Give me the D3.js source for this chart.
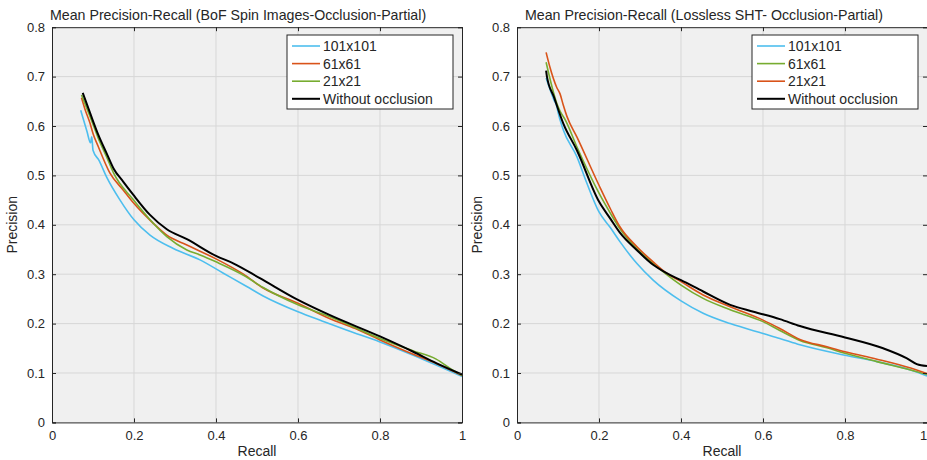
<!DOCTYPE html>
<html lang="en">
<head>
<meta charset="UTF-8" />
<title>Mean Precision-Recall</title>
<script src="https://cdn.jsdelivr.net/npm/d3@7"></script>
<style>
  body { margin: 0; background: #fff; }
  svg text { font-family: "Liberation Sans", Arial, sans-serif; fill: #262626; }
</style>
</head>
<body>
<script>
// tick labels
var xTicks = [0, 0.2, 0.4, 0.6, 0.8, 1];
var yTicks = [0, 0.1, 0.2, 0.3, 0.4, 0.5, 0.6, 0.7, 0.8];

// left panel: BoF Spin Images, [recall, precision]
var bof101 = [[0.07,0.632],[0.085,0.59],[0.094,0.566],[0.097,0.578],[0.1,0.551],[0.115,0.53],[0.133,0.497],[0.166,0.45],[0.2,0.41],[0.239,0.379],[0.296,0.352],[0.361,0.329],[0.418,0.302],[0.475,0.275],[0.515,0.256],[0.6,0.224],[0.66,0.205],[0.718,0.187],[0.8,0.163],[0.881,0.136],[0.94,0.115],[1.0,0.093]];
var bof61 = [[0.072,0.657],[0.08,0.635],[0.093,0.605],[0.1,0.585],[0.113,0.558],[0.141,0.505],[0.174,0.47],[0.198,0.445],[0.247,0.403],[0.28,0.379],[0.329,0.359],[0.4,0.331],[0.467,0.3],[0.515,0.272],[0.6,0.241],[0.678,0.21],[0.74,0.19],[0.8,0.167],[0.881,0.138],[0.94,0.118],[1.0,0.095]];
var bof21 = [[0.072,0.663],[0.093,0.619],[0.113,0.575],[0.133,0.538],[0.15,0.505],[0.198,0.451],[0.247,0.403],[0.28,0.376],[0.329,0.349],[0.361,0.339],[0.4,0.325],[0.467,0.298],[0.515,0.273],[0.6,0.238],[0.678,0.214],[0.8,0.17],[0.88,0.145],[0.937,0.128],[0.97,0.11],[1.0,0.095]];
var bofNone = [[0.075,0.667],[0.093,0.626],[0.113,0.582],[0.133,0.545],[0.15,0.514],[0.174,0.487],[0.198,0.461],[0.239,0.42],[0.28,0.391],[0.329,0.371],[0.4,0.337],[0.442,0.322],[0.507,0.292],[0.6,0.248],[0.678,0.217],[0.8,0.174],[0.881,0.143],[0.937,0.12],[1.0,0.097]];

// right panel: Lossless SHT
var sht101 = [[0.071,0.697],[0.09,0.653],[0.097,0.64],[0.1,0.628],[0.113,0.592],[0.146,0.538],[0.17,0.485],[0.2,0.426],[0.228,0.394],[0.251,0.366],[0.292,0.322],[0.332,0.288],[0.4,0.246],[0.454,0.221],[0.52,0.2],[0.6,0.18],[0.641,0.17],[0.69,0.157],[0.8,0.136],[0.878,0.123],[0.96,0.106],[1.0,0.094]];
var sht61 = [[0.071,0.729],[0.097,0.646],[0.105,0.63],[0.118,0.612],[0.146,0.558],[0.2,0.464],[0.228,0.423],[0.251,0.392],[0.292,0.352],[0.332,0.322],[0.4,0.278],[0.454,0.251],[0.52,0.228],[0.6,0.204],[0.641,0.186],[0.69,0.166],[0.756,0.151],[0.8,0.14],[0.878,0.123],[0.96,0.106],[1.0,0.097]];
var sht21 = [[0.071,0.749],[0.08,0.72],[0.097,0.678],[0.105,0.665],[0.113,0.642],[0.122,0.619],[0.146,0.578],[0.2,0.48],[0.228,0.432],[0.251,0.396],[0.292,0.356],[0.332,0.325],[0.365,0.302],[0.4,0.285],[0.454,0.258],[0.52,0.234],[0.6,0.207],[0.641,0.19],[0.69,0.168],[0.756,0.153],[0.8,0.143],[0.878,0.128],[0.96,0.11],[1.0,0.099]];
var shtNone = [[0.071,0.712],[0.073,0.7],[0.09,0.659],[0.113,0.605],[0.146,0.551],[0.2,0.447],[0.228,0.412],[0.251,0.384],[0.292,0.349],[0.332,0.319],[0.365,0.302],[0.4,0.288],[0.454,0.265],[0.52,0.238],[0.577,0.224],[0.641,0.209],[0.69,0.195],[0.8,0.172],[0.893,0.15],[0.95,0.13],[0.975,0.118],[1.0,0.114]];

var blue = "#4dbeee", orange = "#d95319", green = "#77ac30";

var svg = d3.select("body").append("svg")
    .attr("width", 927)
    .attr("height", 460);

function drawPanel(p) {
  var x = d3.scaleLinear().domain([0, 1]).range([p.left, p.left + 410]);
  var y = d3.scaleLinear().domain([0, 0.8]).range([422.4, 27.2]);
  var g = svg.append("g");

  // axes background
  g.append("rect")
    .attr("x", x(0)).attr("y", y(0.8))
    .attr("width", x(1) - x(0)).attr("height", y(0) - y(0.8))
    .attr("fill", "#f0f0f0");

  // grid
  g.selectAll(".vgrid").data(xTicks.slice(1, -1)).enter().append("line")
    .attr("x1", function(d) { return x(d); }).attr("x2", function(d) { return x(d); })
    .attr("y1", y(0)).attr("y2", y(0.8))
    .attr("stroke", "#d7d7d7").attr("stroke-width", 1);
  g.selectAll(".hgrid").data(yTicks.slice(1, -1)).enter().append("line")
    .attr("x1", x(0)).attr("x2", x(1))
    .attr("y1", function(d) { return y(d); }).attr("y2", function(d) { return y(d); })
    .attr("stroke", "#d7d7d7").attr("stroke-width", 1);

  // curves
  var line = d3.line()
    .x(function(d) { return x(d[0]); })
    .y(function(d) { return y(d[1]); })
    .curve(d3.curveMonotoneX);
  p.series.forEach(function(s) {
    g.append("path")
      .datum(s.data)
      .attr("d", line)
      .attr("fill", "none")
      .attr("stroke", s.color)
      .attr("stroke-width", s.color == "#000" ? 2 : 1.6)
      .attr("stroke-linejoin", "round");
  });

  // axes, ticks inside on all four sides
  var bottom = d3.axisBottom(x).tickValues(xTicks).tickSize(-4).tickPadding(8)
    .tickFormat(d3.format("~g"));
  var top = d3.axisTop(x).tickValues(xTicks).tickSize(-4).tickFormat("");
  var left = d3.axisLeft(y).tickValues(yTicks).tickSize(-4).tickPadding(7)
    .tickFormat(d3.format("~g"));
  var right = d3.axisRight(y).tickValues(yTicks).tickSize(-4).tickFormat("");

  [[bottom, "translate(0," + y(0) + ")"], [top, "translate(0," + y(0.8) + ")"],
   [left, "translate(" + x(0) + ",0)"], [right, "translate(" + x(1) + ",0)"]].forEach(function(a) {
    var ax = g.append("g").attr("transform", a[1]).call(a[0]);
    ax.select(".domain").attr("stroke", "#262626");
    ax.selectAll(".tick line").attr("stroke", "#262626");
    ax.selectAll("text").attr("font-size", 13).attr("fill", "#262626")
      .attr("font-family", "Liberation Sans, Arial, sans-serif");
    if (a[0] === bottom && p.lastTickShift) {
      ax.selectAll(".tick text").filter(function(d) { return d === 1; })
        .attr("dx", p.lastTickShift);
    }
  });

  // title and labels
  g.append("text")
    .attr("x", p.titleX).attr("y", 20)
    .attr("font-size", 14.2)
    .text(p.title);
  g.append("text")
    .attr("x", (x(0) + x(1)) / 2).attr("y", 456)
    .attr("text-anchor", "middle")
    .attr("font-size", 14)
    .text("Recall");
  g.append("text")
    .attr("transform", "translate(" + (p.left - 35) + "," + y(0.4) + ") rotate(-90)")
    .attr("text-anchor", "middle")
    .attr("font-size", 14)
    .text("Precision");

  // legend
  var lx = p.legendX, ly = 35;
  g.append("rect")
    .attr("x", lx).attr("y", ly).attr("width", 166).attr("height", 74)
    .attr("fill", "#fff").attr("stroke", "#262626").attr("stroke-width", 1);
  p.series.forEach(function(s, i) {
    var cy = ly + 11 + i * 17.6;
    g.append("line")
      .attr("x1", lx + 5).attr("x2", lx + 33)
      .attr("y1", cy).attr("y2", cy)
      .attr("stroke", s.color).attr("stroke-width", s.color == "#000" ? 2 : 1.6);
    g.append("text")
      .attr("x", lx + 36).attr("y", cy + 5)
      .attr("font-size", 14)
      .text(s.name);
  });
}

drawPanel({
  left: 52, titleX: 50, legendX: 287,
  title: "Mean Precision-Recall (BoF Spin Images-Occlusion-Partial)",
  series: [
    { name: "101x101", color: blue, data: bof101 },
    { name: "61x61", color: orange, data: bof61 },
    { name: "21x21", color: green, data: bof21 },
    { name: "Without occlusion", color: "#000", data: bofNone }
  ]
});

drawPanel({
  left: 517, titleX: 525, legendX: 752, lastTickShift: -4,
  title: "Mean Precision-Recall (Lossless SHT- Occlusion-Partial)",
  series: [
    { name: "101x101", color: blue, data: sht101 },
    { name: "61x61", color: green, data: sht61 },
    { name: "21x21", color: orange, data: sht21 },
    { name: "Without occlusion", color: "#000", data: shtNone }
  ]
});
</script>
</body>
</html>
